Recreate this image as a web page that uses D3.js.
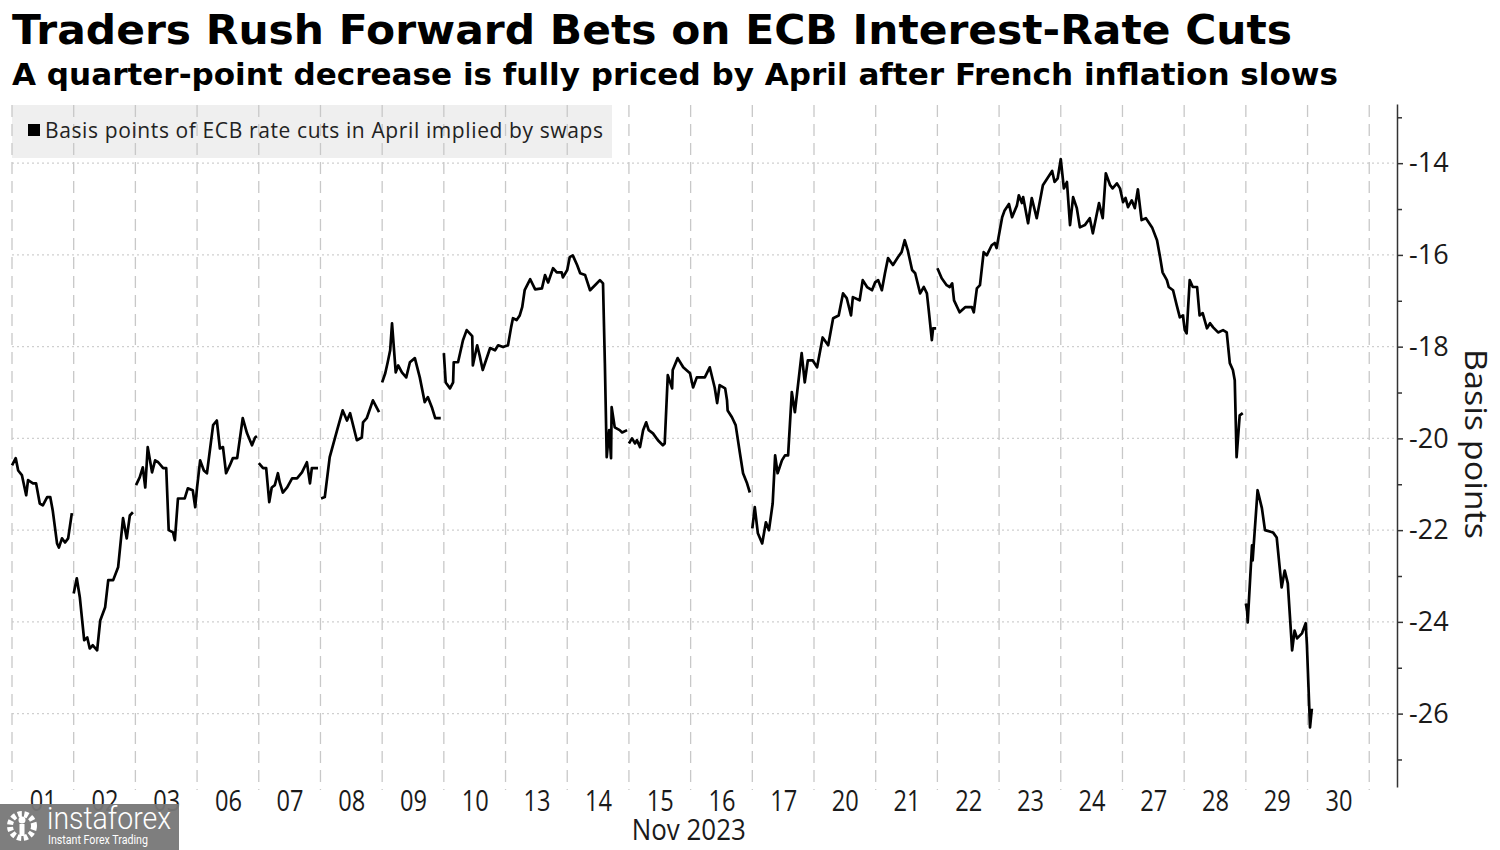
<!DOCTYPE html>
<meta charset="utf-8">
<style>
    body { margin: 0; background: #fff; }
    svg text { fill: #1a1a1a; }
    .grid-v line { stroke: #c8c8c8; stroke-width: 1.3; stroke-dasharray: 12,7; }
    .grid-h line { stroke: #cfcfcf; stroke-width: 1.3; stroke-dasharray: 2,3; }
    .y-axis path, .y-axis line { stroke: #333; stroke-width: 1.5; }
    .y-axis text { font-family: "Open Sans", sans-serif; font-size: 27px; fill: #1a1a1a; }
    .x-axis text { font-family: "Open Sans", sans-serif; font-size: 30px; fill: #1a1a1a; }
    path.series { fill: none; stroke: #000; stroke-width: 2.7; stroke-linejoin: round; }
</style>
<script src="https://d3js.org/d3.v7.min.js"></script>
<body>
<script>
    var dayLabels = ["01", "02", "03", "06", "07", "08", "09", "10", "13", "14", "15",
        "16", "17", "20", "21", "22", "23", "24", "27", "28", "29", "30"];
    var yTicks = [-14, -16, -18, -20, -22, -24, -26];
    var yMinor = [-13, -15, -17, -19, -21, -23, -25, -27];

    // [trading-day position, basis points]; one array per unbroken stretch
    var segDay01 = [[0.00,-20.59],[0.06,-20.43],[0.10,-20.70],[0.16,-20.80],[0.23,-21.24],[0.26,-20.91],[0.34,-20.98],[0.39,-20.98],[0.45,-21.42],[0.50,-21.46],[0.57,-21.28],[0.62,-21.28],[0.66,-21.57],[0.73,-22.29],[0.76,-22.38],[0.81,-22.18],[0.86,-22.27],[0.91,-22.18],[0.97,-21.63]];
    var segDay02 = [[1.00,-23.38],[1.05,-23.05],[1.10,-23.47],[1.17,-24.40],[1.22,-24.34],[1.26,-24.58],[1.31,-24.51],[1.38,-24.62],[1.43,-23.97],[1.51,-23.68],[1.56,-23.09],[1.64,-23.09],[1.72,-22.81],[1.80,-21.74],[1.86,-22.18],[1.91,-21.68],[1.96,-21.61]];
    var segDay03 = [[2.01,-21.02],[2.07,-20.85],[2.12,-20.63],[2.16,-21.07],[2.20,-20.19],[2.27,-20.74],[2.32,-20.48],[2.37,-20.52],[2.45,-20.65],[2.50,-20.65],[2.54,-22.00],[2.61,-22.05],[2.64,-22.22],[2.69,-21.31],[2.80,-21.31],[2.85,-21.09],[2.93,-21.13],[2.97,-21.50],[3.00,-21.07],[3.05,-20.48],[3.11,-20.70],[3.16,-20.76],[3.26,-19.71],[3.32,-19.61],[3.37,-20.22],[3.42,-20.19],[3.47,-20.76],[3.53,-20.59],[3.58,-20.43],[3.65,-20.43],[3.74,-19.56],[3.81,-19.89],[3.89,-20.15],[3.94,-19.98],[3.97,-19.95]];
    var segDay07 = [[4.00,-20.54],[4.07,-20.65],[4.12,-20.65],[4.17,-21.39],[4.21,-21.07],[4.26,-21.02],[4.31,-20.76],[4.34,-20.96],[4.39,-21.18],[4.46,-21.07],[4.54,-20.87],[4.62,-20.87],[4.70,-20.74],[4.78,-20.52],[4.83,-20.98],[4.86,-20.65],[4.96,-20.65]];
    var segDay08 = [[5.01,-21.31],[5.07,-21.28],[5.15,-20.41],[5.27,-19.82],[5.36,-19.39],[5.43,-19.61],[5.48,-19.45],[5.59,-20.04],[5.67,-19.98],[5.69,-19.65],[5.75,-19.56],[5.85,-19.17],[5.95,-19.43]];
    var segDay09 = [[6.00,-18.78],[6.05,-18.58],[6.09,-18.34],[6.13,-18.08],[6.16,-17.49],[6.22,-18.56],[6.26,-18.41],[6.32,-18.56],[6.39,-18.67],[6.45,-18.34],[6.53,-18.25],[6.61,-18.67],[6.69,-19.21],[6.74,-19.10],[6.81,-19.34],[6.86,-19.56],[6.95,-19.56]];
    var segDay10 = [[7.00,-18.14],[7.03,-18.78],[7.10,-18.91],[7.15,-18.78],[7.16,-18.34],[7.23,-18.34],[7.31,-17.86],[7.37,-17.64],[7.46,-17.77],[7.47,-18.41],[7.54,-17.97],[7.58,-18.19],[7.63,-18.51],[7.75,-18.03],[7.83,-18.08],[7.88,-17.97],[7.96,-18.01],[8.04,-17.97],[8.09,-17.58],[8.12,-17.38],[8.18,-17.42],[8.23,-17.32],[8.27,-17.14],[8.31,-16.77],[8.40,-16.53],[8.48,-16.75],[8.59,-16.73],[8.64,-16.44],[8.69,-16.60],[8.77,-16.29],[8.83,-16.38],[8.91,-16.38],[8.93,-16.49],[9.00,-16.33],[9.04,-16.05],[9.09,-16.01],[9.16,-16.22],[9.21,-16.40],[9.29,-16.44],[9.37,-16.77],[9.45,-16.66],[9.53,-16.55],[9.58,-16.62],[9.61,-18.36],[9.64,-20.41],[9.68,-19.82],[9.71,-20.43],[9.72,-19.32],[9.77,-19.76],[9.85,-19.82],[9.89,-19.87],[9.97,-19.82]];
    var segDay15 = [[10.00,-20.11],[10.05,-20.00],[10.10,-20.11],[10.13,-20.04],[10.18,-20.19],[10.23,-19.82],[10.28,-19.65],[10.32,-19.82],[10.39,-19.89],[10.47,-20.04],[10.55,-20.15],[10.58,-20.11],[10.63,-18.62],[10.70,-18.91],[10.71,-18.51],[10.79,-18.25],[10.88,-18.45],[10.99,-18.58],[11.04,-18.89],[11.10,-18.67],[11.23,-18.67],[11.31,-18.45],[11.39,-18.89],[11.43,-19.23],[11.47,-18.84],[11.56,-18.91],[11.59,-19.17],[11.60,-19.39],[11.67,-19.54],[11.73,-19.71],[11.80,-20.33],[11.85,-20.76],[11.91,-20.96],[11.96,-21.18]];
    var segDay17 = [[12.00,-21.96],[12.04,-21.50],[12.09,-22.07],[12.16,-22.29],[12.22,-21.83],[12.27,-22.00],[12.33,-21.42],[12.37,-20.37],[12.41,-20.76],[12.48,-20.48],[12.53,-20.37],[12.58,-20.37],[12.64,-18.99],[12.69,-19.43],[12.80,-18.14],[12.85,-18.78],[12.90,-18.30],[12.98,-18.30],[13.05,-18.45],[13.14,-17.80],[13.23,-17.97],[13.31,-17.38],[13.40,-17.32],[13.47,-16.84],[13.53,-16.94],[13.60,-17.32],[13.63,-16.92],[13.74,-16.99],[13.79,-16.55],[13.86,-16.70],[13.94,-16.77],[13.99,-16.60],[14.04,-16.55],[14.10,-16.77],[14.15,-16.40],[14.20,-16.07],[14.28,-16.22],[14.36,-16.05],[14.42,-15.94],[14.47,-15.68],[14.52,-15.90],[14.59,-16.33],[14.64,-16.40],[14.72,-16.84],[14.78,-16.70],[14.83,-16.84],[14.86,-17.21],[14.91,-17.86],[14.93,-17.60],[14.98,-17.60]];
    var segDay22 = [[15.00,-16.29],[15.07,-16.51],[15.15,-16.66],[15.20,-16.70],[15.24,-16.62],[15.27,-16.99],[15.36,-17.25],[15.45,-17.14],[15.56,-17.14],[15.59,-17.25],[15.64,-16.73],[15.69,-16.66],[15.75,-15.94],[15.80,-16.01],[15.88,-15.79],[15.93,-15.74],[15.96,-15.85],[16.05,-15.18],[16.09,-15.03],[16.16,-14.89],[16.21,-15.18],[16.29,-14.92],[16.32,-14.70],[16.37,-14.87],[16.39,-14.74],[16.47,-15.31],[16.53,-14.76],[16.61,-15.20],[16.71,-14.48],[16.86,-14.17],[16.90,-14.41],[16.95,-14.33],[17.00,-13.91],[17.05,-14.55],[17.10,-14.41],[17.15,-15.35],[17.20,-14.74],[17.26,-14.98],[17.31,-15.40],[17.39,-15.35],[17.47,-15.20],[17.52,-15.53],[17.62,-14.87],[17.68,-15.20],[17.73,-14.22],[17.80,-14.48],[17.84,-14.55],[17.91,-14.44],[17.96,-14.55],[18.01,-14.85],[18.05,-14.76],[18.09,-14.96],[18.15,-14.81],[18.20,-14.98],[18.25,-14.57],[18.31,-15.24],[18.38,-15.20],[18.48,-15.40],[18.56,-15.68],[18.61,-16.05],[18.65,-16.38],[18.72,-16.55],[18.75,-16.70],[18.82,-16.77],[18.88,-17.10],[18.93,-17.36],[18.98,-17.32],[19.01,-17.64],[19.04,-17.71],[19.09,-16.55],[19.14,-16.70],[19.21,-16.70],[19.25,-17.32],[19.30,-17.27],[19.37,-17.60],[19.42,-17.49],[19.47,-17.58],[19.55,-17.69],[19.63,-17.64],[19.69,-17.69],[19.74,-18.36],[19.79,-18.51],[19.82,-18.73],[19.85,-20.41],[19.90,-19.50],[19.95,-19.45]];
    var segDay29 = [[20.00,-23.60],[20.02,-23.75],[20.03,-24.01],[20.10,-22.33],[20.11,-22.66],[20.19,-21.13],[20.26,-21.52],[20.31,-22.00],[20.44,-22.05],[20.50,-22.16],[20.58,-23.25],[20.63,-22.88],[20.68,-23.16],[20.75,-24.62],[20.79,-24.19],[20.83,-24.36],[20.91,-24.25],[20.97,-24.03],[20.99,-24.51],[21.04,-26.30],[21.07,-25.89]];

    var segments = [segDay01, segDay02, segDay03, segDay07, segDay08, segDay09,
        segDay10, segDay15, segDay17, segDay22, segDay29];

    var width = 1500;
    var height = 850;

    var x = d3.scaleLinear().domain([0, 22.45]).range([12, 1397]);
    var y = d3.scaleLinear().domain([-27.6, -12.71]).range([787, 104]);

    var svg = d3.select("body").append("svg")
        .attr("width", width)
        .attr("height", height);

    // titles
    svg.append("text")
        .attr("x", 12).attr("y", 44)
        .attr("textLength", 1280).attr("lengthAdjust", "spacingAndGlyphs")
        .style("font-family", "'DejaVu Sans', sans-serif")
        .style("font-weight", "bold").style("font-size", "41px")
        .style("fill", "#000")
        .text("Traders Rush Forward Bets on ECB Interest-Rate Cuts");
    svg.append("text")
        .attr("x", 12).attr("y", 85)
        .attr("textLength", 1326).attr("lengthAdjust", "spacingAndGlyphs")
        .style("font-family", "'DejaVu Sans', sans-serif")
        .style("font-weight", "bold").style("font-size", "30px")
        .style("fill", "#000")
        .text("A quarter-point decrease is fully priced by April after French inflation slows");

    // legend background (gridlines show through it)
    svg.append("rect")
        .attr("x", 12).attr("y", 105)
        .attr("width", 600).attr("height", 53)
        .attr("fill", "#efefef");

    svg.append("g").attr("class", "grid-h")
        .selectAll("line").data(yTicks).enter().append("line")
        .attr("x1", x(0)).attr("x2", x.range()[1])
        .attr("y1", d => y(d)).attr("y2", d => y(d));

    svg.append("g").attr("class", "grid-v")
        .selectAll("line").data(d3.range(23)).enter().append("line")
        .attr("x1", d => x(d)).attr("x2", d => x(d))
        .attr("y1", 105).attr("y2", 790);

    // legend
    svg.append("rect")
        .attr("x", 28).attr("y", 124)
        .attr("width", 12).attr("height", 12)
        .attr("fill", "#000");
    svg.append("text")
        .attr("x", 45).attr("y", 138)
        .attr("textLength", 558).attr("lengthAdjust", "spacing")
        .style("font-family", "'Open Sans', sans-serif").style("font-size", "21px")
        .style("fill", "#222")
        .text("Basis points of ECB rate cuts in April implied by swaps");

    // series
    var line = d3.line()
        .x(d => x(d[0]))
        .y(d => y(d[1]));

    svg.append("g").selectAll("path")
        .data(segments).enter().append("path")
        .attr("class", "series")
        .attr("d", line);

    // right axis
    svg.append("g").attr("class", "y-axis")
        .attr("transform", "translate(" + x.range()[1] + ",0)")
        .call(d3.axisRight(y).tickValues(yTicks).tickSize(6).tickSizeOuter(0)
            .tickPadding(6).tickFormat(d => String(d)));
    svg.append("g").attr("class", "y-axis")
        .attr("transform", "translate(" + x.range()[1] + ",0)")
        .call(d3.axisRight(y).tickValues(yMinor).tickSize(5).tickSizeOuter(0)
            .tickFormat(""))
        .select(".domain").remove();

    svg.append("text")
        .attr("transform", "translate(1465,444) rotate(90)")
        .attr("text-anchor", "middle")
        .attr("textLength", 190).attr("lengthAdjust", "spacingAndGlyphs")
        .style("font-family", "'Open Sans', sans-serif").style("font-size", "31px")
        .text("Basis points");

    // bottom day labels
    var xAxis = svg.append("g").attr("class", "x-axis")
        .attr("transform", "translate(0,788)")
        .call(d3.axisBottom(x).tickValues(d3.range(22).map(i => i + 0.5))
            .tickSize(0).tickPadding(2).tickFormat((d, i) => dayLabels[i]));
    xAxis.select(".domain").remove();
    xAxis.selectAll("text")
        .attr("textLength", 27).attr("lengthAdjust", "spacingAndGlyphs");

    svg.append("text")
        .attr("x", x(10.97)).attr("y", 840)
        .attr("text-anchor", "middle")
        .attr("textLength", 114).attr("lengthAdjust", "spacingAndGlyphs")
        .style("font-family", "'Open Sans', sans-serif")
        .style("font-size", "29px")
        .text("Nov 2023");

    // watermark
    var wm = svg.append("g");
    wm.append("rect")
        .attr("x", 0).attr("y", 804)
        .attr("width", 179).attr("height", 46)
        .attr("fill", "#777").attr("opacity", 0.95);
    wm.append("circle")
        .attr("cx", 22).attr("cy", 826).attr("r", 12)
        .attr("fill", "none").attr("stroke", "#fff").attr("stroke-width", 6)
        .attr("stroke-dasharray", "4,2.5");
    wm.append("circle")
        .attr("cx", 22).attr("cy", 820).attr("r", 3.5).attr("fill", "#fff");
    wm.append("rect")
        .attr("x", 19.5).attr("y", 824).attr("width", 5).attr("height", 12).attr("fill", "#fff");
    wm.append("text")
        .attr("x", 47).attr("y", 829)
        .attr("textLength", 124).attr("lengthAdjust", "spacingAndGlyphs")
        .style("font-family", "'Roboto', sans-serif").style("font-weight", 300)
        .style("font-size", "32px").style("fill", "#fff")
        .text("instaforex");
    wm.append("text")
        .attr("x", 48).attr("y", 844)
        .attr("textLength", 100).attr("lengthAdjust", "spacingAndGlyphs")
        .style("font-family", "'Roboto', sans-serif")
        .style("font-size", "12px").style("fill", "#fff")
        .text("Instant Forex Trading");
</script>
